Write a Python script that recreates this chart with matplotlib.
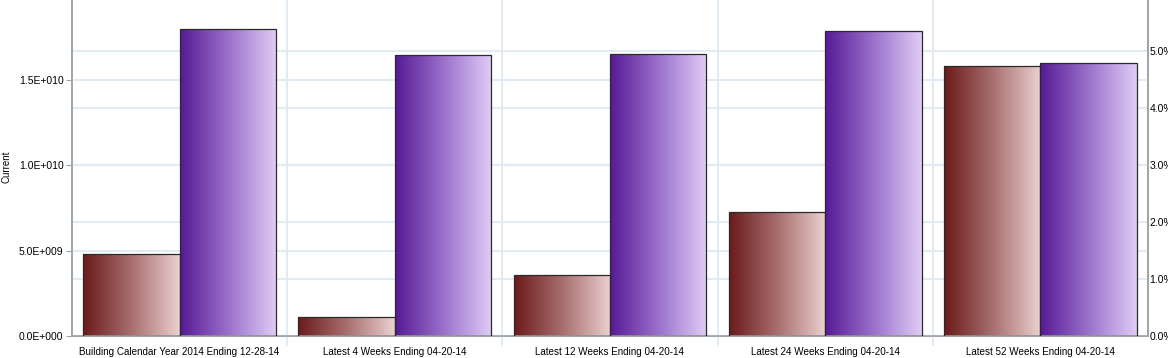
import matplotlib
matplotlib.use("Agg")
import matplotlib.pyplot as plt
import numpy as np
from matplotlib.colors import LinearSegmentedColormap
from matplotlib.ticker import FuncFormatter, MultipleLocator, FixedLocator

plt.rcParams['font.family'] = ['Liberation Sans', 'DejaVu Sans']

categorias = [
    "Building Calendar Year 2014 Ending 12-28-14",
    "Latest 4 Weeks Ending 04-20-14",
    "Latest 12 Weeks Ending 04-20-14",
    "Latest 24 Weeks Ending 04-20-14",
    "Latest 52 Weeks Ending 04-20-14",
]
serie_roja = [4.80e9, 1.11e9, 3.57e9, 7.27e9, 1.582e10]
serie_morada = [1.799e10, 1.646e10, 1.652e10, 1.787e10, 1.600e10]

mapa_rojo = LinearSegmentedColormap.from_list("rojo", ["#6b1a1a", "#a86e6e", "#ecd0d0"])
mapa_morado = LinearSegmentedColormap.from_list("morado", ["#561a94", "#9a70cc", "#e0cdf6"])

color_grid = "#e2eaf4"
color_eje = "#a0a4a8"


def formato_cientifico(v, pos):
    exp = int(np.floor(np.log10(v))) if v > 0 else 0
    return "%.1fE+%03d" % (v / 10 ** exp, exp)


fig = plt.figure(figsize=(11.68, 3.58), dpi=100)
ax = fig.add_axes([0.0616, 0.0615, 0.9213, 0.9385])
ax2 = ax.twinx()
# el eje derecho (porcentaje) va debajo, solo aporta su grilla y etiquetas
ax.set_zorder(ax2.get_zorder() + 1)
ax.patch.set_visible(False)

x = np.arange(len(categorias))
ancho = 0.448

barras_r = ax.bar(x - ancho / 2, serie_roja, ancho, facecolor="none",
                  edgecolor="#2a2a2a", linewidth=0.9, zorder=3)
barras_m = ax.bar(x + ancho / 2, serie_morada, ancho, facecolor="none",
                  edgecolor="#2a2a2a", linewidth=0.9, zorder=3)

gradiente = np.linspace(0, 1, 256).reshape(1, -1)
for barras, cmap in [(barras_r, mapa_rojo), (barras_m, mapa_morado)]:
    for b in barras:
        x0, y0 = b.get_x(), b.get_y()
        ax.imshow(gradiente, extent=[x0, x0 + b.get_width(), y0, y0 + b.get_height()],
                  aspect="auto", cmap=cmap, zorder=2, interpolation="bilinear")

ax.set_xlim(-0.5, len(categorias) - 0.5)
ax.set_ylim(0, 1.97e10)
ax2.set_ylim(0, 5.89)

ax.yaxis.set_major_locator(MultipleLocator(5e9))
ax.yaxis.set_major_formatter(FuncFormatter(formato_cientifico))
ax2.yaxis.set_major_locator(MultipleLocator(1.0))
ax2.yaxis.set_major_formatter(FuncFormatter(lambda v, p: "%.1f%%" % v))

ax.set_xticks(x)
ax.set_xticklabels(categorias, fontsize=7.1)
ax.xaxis.set_minor_locator(FixedLocator(x[:-1] + 0.5))
ax.tick_params(axis="x", which="major", length=0, pad=8)
ax.tick_params(axis="x", which="minor", length=7, color=color_grid, width=1.5)
ax.tick_params(axis="y", labelsize=7.5, length=4, color=color_eje, pad=2)
ax2.tick_params(axis="y", labelsize=7.5, length=0, pad=1)

ax.grid(True, axis="y", color=color_grid, linewidth=1.5, zorder=0)
ax.grid(True, axis="x", which="minor", color=color_grid, linewidth=1.5, zorder=0)
ax2.grid(True, axis="y", color=color_grid, linewidth=1.5)
ax.set_axisbelow(True)

ax.set_ylabel("Current", fontsize=7)
ax.yaxis.set_label_coords(-0.056, 0.503)

for a in (ax, ax2):
    a.spines["top"].set_visible(False)
    for s in ("left", "right", "bottom"):
        a.spines[s].set_color(color_eje)
        a.spines[s].set_linewidth(1.2)

fig.savefig("out.png", dpi=100)
